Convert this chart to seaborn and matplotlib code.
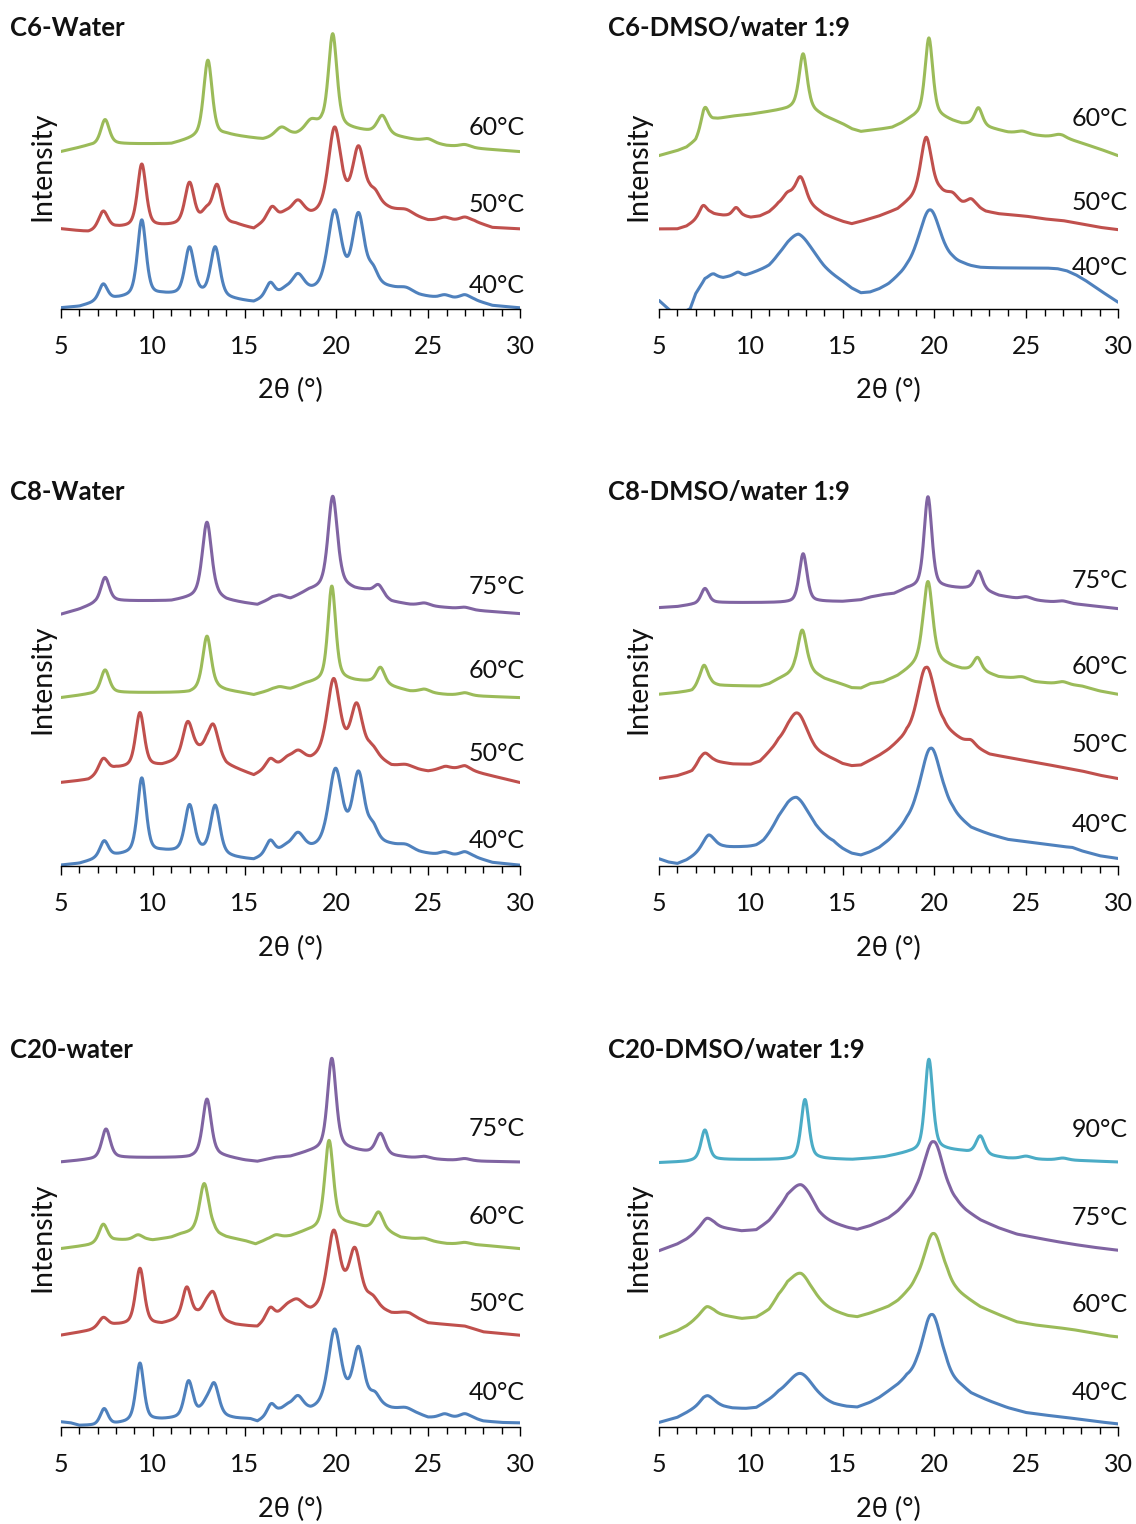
import numpy as np
import pandas as pd
import matplotlib
matplotlib.use("Agg")
import matplotlib.pyplot as plt
from matplotlib.ticker import MultipleLocator
import seaborn as sns

# ---------------- data ----------------
# each curve: background anchors (2theta, intensity a.u.) and peaks (2theta, height, FWHM)
TEMPS_C6W = ["40°C", "50°C", "60°C"]
C6W_40_base = [(5,3),(6,7),(6.8,18),(8,30),(9,36),(10.5,42),(11.5,40),(12.7,40),(14.5,26),(15.5,18),(16.1,30),(18.6,48),(19.3,55),(21.8,70),(23,60),(24.5,40),(25.5,32),(27.5,26),(28.5,10),(30,3)]
C6W_40_peaks = [(7.3,50,.55),(9.4,228,.55),(12.0,142,.6),(13.4,148,.6),(16.4,42,.55),(17.2,14,.7),(17.9,55,.8),(19.9,230,.85),(21.2,210,.75),(22.0,38,.6),(23.8,12,.9),(25.9,10,.7),(27.0,14,.7)]
C6W_50_base = [(5,240),(6.5,230),(8,243),(10,246),(11.5,250),(14.5,252),(15.5,238),(16.2,262),(18.6,275),(19.3,285),(21.8,322),(23,296),(25,265),(27.5,262),(28.5,244),(30,240)]
C6W_50_peaks = [(7.3,55,.6),(9.4,188,.55),(12.0,125,.6),(12.9,35,.6),(13.5,115,.6),(16.5,38,.55),(17.2,14,.7),(17.9,48,.8),(19.9,245,.8),(21.2,165,.75),(22.1,28,.6),(23.8,12,.9),(25.9,10,.7),(27.0,12,.7)]
C6W_60_base = [(5,472),(6.5,490),(8,495),(11,495),(12.3,512),(14,522),(16,508),(17.8,522),(19.2,550),(20.5,542),(21.7,532),(23.2,518),(24.5,505),(26,490),(28,480),(30,472)]
C6W_60_peaks = [(7.4,75,.55),(13.0,230,.55),(17.0,28,.8),(18.6,25,.7),(19.8,278,.55),(22.5,55,.65),(25.0,10,.7),(27.0,8,.7)]
C6W_label_y = [70, 315, 545]

TEMPS_C6D = ["40°C", "50°C", "60°C"]
C6D_40_base = [(5,25),(5.6,-5),(6.3,-12),(6.7,0),(7.0,45),(7.5,88),(8,95),(8.5,92),(9,98),(9.7,98),(10.5,112),(11,120),(11.5,138),(12,150),(12.6,154),(13,145),(13.5,132),(14,112),(14.5,95),(15,78),(15.5,58),(16,44),(16.5,46),(17,55),(17.5,68),(18,88),(18.5,105),(19,110),(19.75,112),(20.5,120),(21,129),(21.5,128),(22,123),(22.5,120),(26,122),(26.7,120),(27.2,114),(27.7,102),(28.2,86),(29,56),(30,20)]
C6D_40_peaks = [(7.9,10,.5),(9.3,10,.4),(12.6,70,1.8),(19.75,185,1.4)]
C6D_50_base = [(5,240),(6,240),(6.5,248),(7,265),(7.8,285),(8.5,280),(9.6,278),(10,274),(10.5,278),(11,290),(11.5,312),(12.3,322),(13,318),(13.5,300),(14,283),(14.5,272),(15,262),(15.5,255),(16,262),(17,278),(18,298),(18.5,318),(19,335),(19.55,350),(20.3,350),(21,330),(21.5,315),(22.3,305),(22.8,292),(23.5,285),(25,278),(26,270),(27,265),(28,255),(29,245),(30,238)]
C6D_50_peaks = [(7.4,35,.5),(9.2,25,.45),(12.0,25,.6),(12.7,75,.65),(19.55,165,.7),(21.0,15,.6),(22.0,20,.55)]
C6D_60_base = [(5,460),(6,475),(6.5,485),(7,505),(7.4,545),(7.8,562),(8,568),(9,578),(10,584),(11,592),(12,600),(12.5,608),(13.2,603),(13.5,592),(14,578),(15,555),(15.5,540),(16,532),(16.6,536),(17.2,540),(17.7,544),(18.2,556),(18.6,568),(19,578),(19.7,588),(20.5,573),(21,563),(21.5,555),(22.4,553),(23,543),(24,530),(26,518),(27,515),(28,498),(29,480),(30,460)]
C6D_60_peaks = [(7.5,55,.45),(12.85,160,.5),(19.7,225,.5),(22.4,50,.5),(24.8,8,.7),(26.8,8,.7)]
C6D_label_y = [125, 320, 570]

TEMPS_C8W = ["40°C", "50°C", "60°C", "75°C"]
C8W_40_base = [(5,2),(6,7),(6.8,18),(8,30),(9,36),(10.5,42),(11.5,40),(12.7,40),(14.5,23),(15.5,16),(16.1,28),(18.6,46),(19.3,55),(21.8,70),(23,60),(24.5,40),(25.5,32),(27.5,26),(28.5,10),(30,2)]
C8W_40_peaks = [(7.35,50,.55),(9.4,225,.55),(12.0,140,.6),(13.4,145,.6),(16.4,42,.55),(17.2,14,.7),(17.9,52,.8),(19.95,225,.85),(21.2,205,.75),(22.0,38,.6),(23.8,12,.9),(25.9,10,.7),(27.0,14,.7)]
C8W_50_base = [(5,250),(6.5,258),(8,292),(9,296),(10.5,300),(11.5,315),(12.4,338),(12.9,352),(14,302),(15.5,270),(16.1,286),(17,300),(18.6,313),(19.3,330),(21.8,335),(23,298),(25,283),(26,290),(27,290),(28,276),(30,250)]
C8W_50_peaks = [(7.3,45,.6),(9.3,162,.55),(11.9,105,.65),(13.3,88,.65),(16.4,28,.55),(17.3,14,.6),(17.9,33,.8),(19.85,225,.8),(21.1,145,.75),(22.0,18,.6),(23.8,10,.9),(25.9,8,.7),(27.0,10,.7)]
C8W_60_base = [(5,505),(6.5,515),(8,520),(12,520),(12.5,527),(13.5,532),(14,526),(15,518),(15.5,513),(16.5,528),(17.5,530),(18.3,546),(19.2,555),(20.3,560),(21,555),(21.8,552),(23,538),(24,524),(26,514),(28,509),(30,505)]
C8W_60_peaks = [(7.4,70,.55),(12.95,160,.55),(16.9,8,.7),(19.75,282,.5),(22.4,50,.55),(24.8,10,.7),(27.0,8,.7)]
C8W_75_base = [(5,755),(6,770),(6.8,786),(8,795),(11,795),(12.3,806),(13.5,806),(14,796),(15,788),(15.7,783),(16.5,802),(17.5,800),(18.5,826),(19.2,833),(20.3,840),(21,829),(21.7,825),(23,793),(24,784),(26,775),(28,765),(30,757)]
C8W_75_peaks = [(7.4,75,.55),(12.95,225,.6),(16.9,10,.7),(19.8,272,.6),(22.3,32,.6),(24.8,8,.7),(27.0,6,.7)]
C8W_label_y = [75, 337, 585, 840]

TEMPS_C8D = ["40°C", "50°C", "60°C", "75°C"]
C8D_40_base = [(5,20),(5.5,10),(6,5),(6.5,15),(7,30),(7.7,50),(8.5,52),(9.5,50),(10.3,47),(10.7,51),(11,60),(11.5,76),(12,79),(12.5,75),(13,61),(13.5,54),(14,55),(14.5,54),(15,40),(15.5,29),(16,25),(16.5,35),(17,48),(17.5,68),(18,93),(18.5,118),(19,127),(19.8,125),(20.6,146),(21,145),(21.5,127),(22,108),(23,91),(24,77),(25,71),(26,64),(27,57),(27.5,55),(28,45),(29,30),(30,22)]
C8D_40_peaks = [(7.7,40,.8),(12.5,130,2.2),(19.8,227,1.3)]
C8D_50_base = [(5,262),(6,270),(6.8,283),(7.2,305),(8,312),(8.5,308),(9,304),(10,302),(10.5,310),(11,335),(11.5,358),(12,360),(12.55,348),(13,340),(13.5,330),(14,325),(14.5,316),(15,303),(15.5,297),(16,299),(16.5,313),(17,327),(17.5,343),(18,363),(18.5,380),(19,372),(19.55,360),(20,383),(20.5,400),(21,387),(21.5,372),(22,358),(22.5,346),(23,333),(24,324),(25,314),(26,305),(27,295),(28,285),(29,272),(30,262)]
C8D_50_peaks = [(7.5,30,.65),(12.55,110,1.3),(19.55,235,1.1),(22.0,15,.55)]
C8D_60_base = [(5,515),(6,520),(6.8,525),(7.1,538),(7.8,546),(8.3,541),(10.5,539),(11,546),(11.5,560),(12,572),(12.4,585),(13.2,586),(13.5,575),(14,561),(15,544),(15.5,534),(16,533),(16.5,546),(17.2,551),(18,569),(18.5,586),(19,604),(19.3,615),(20.3,610),(21,597),(21.5,590),(22,588),(22.8,580),(23.5,567),(24.5,562),(25.5,552),(26.5,547),(28,540),(29,525),(30,515)]
C8D_60_peaks = [(7.45,60,.5),(12.8,122,.55),(19.65,240,.6),(22.35,40,.5),(24.8,8,.7),(27.0,8,.7)]
C8D_75_base = [(5,775),(6,778),(6.8,784),(8,790),(12.3,790),(13.3,793),(15,793),(16,798),(16.5,806),(17.2,813),(17.8,816),(18.5,831),(19.2,836),(20.5,835),(21.5,832),(22.0,832),(22.8,825),(23.5,811),(24.5,802),(26,794),(28,784),(30,772)]
C8D_75_peaks = [(7.5,45,.5),(12.85,145,.5),(19.65,272,.5),(22.4,55,.5),(25.0,8,.7),(27.0,6,.7)]
C8D_label_y = [125, 365, 600, 855]

TEMPS_C20W = ["40°C", "50°C", "60°C", "75°C"]
C20W_40_base = [(5,15),(5.5,12),(6,4),(6.8,4),(7.8,7),(8.5,12),(9,18),(10.5,21),(11.5,25),(12.6,35),(14.5,24),(15.3,22),(15.7,14),(16.2,28),(16.9,42),(18.6,46),(19.2,57),(20.6,75),(21.8,68),(22.6,58),(23,52),(24.5,36),(25,27),(27.5,24),(28,17),(29,13),(30,12)]
C20W_40_peaks = [(7.35,48,.5),(9.3,172,.5),(11.95,106,.55),(12.9,28,.6),(13.35,92,.6),(16.45,33,.5),(17.3,14,.6),(17.9,43,.7),(19.9,222,.8),(21.2,160,.7),(22.1,28,.6),(23.8,12,.9),(25.9,12,.7),(27.0,14,.7)]
C20W_50_base = [(5,275),(6.5,288),(8,305),(9,307),(10.5,307),(11.4,320),(12.4,330),(13.8,315),(14.5,305),(15.7,298),(16.1,315),(17,334),(18.6,340),(19.2,356),(20.5,373),(21.8,370),(22.6,347),(23,338),(24,333),(25,311),(27,302),(28,285),(30,275)]
C20W_50_peaks = [(7.3,30,.6),(9.3,168,.55),(11.85,92,.55),(12.9,32,.6),(13.3,72,.6),(16.4,33,.5),(17.3,16,.7),(17.85,38,.9),(19.85,218,.8),(21.0,155,.75),(22.0,18,.6),(23.8,8,.9)]
C20W_60_base = [(5,535),(6.5,545),(8,560),(9.7,561),(10,560),(11,568),(11.5,577),(12.3,584),(13.3,586),(13.6,575),(14,568),(15,558),(15.6,548),(16.2,561),(17.5,572),(18.3,586),(19,594),(20.3,610),(21,606),(21.6,597),(22.9,582),(23.5,568),(24.5,562),(26,550),(28,545),(30,535)]
C20W_60_peaks = [(7.3,55,.55),(9.2,15,.6),(12.8,145,.6),(16.7,10,.6),(19.6,258,.55),(22.3,55,.6),(24.8,6,.7),(27.0,6,.7)]
C20W_75_base = [(5,795),(6.5,802),(8,808),(12,808),(12.4,812),(13.5,815),(14,810),(15,800),(15.7,796),(16.7,808),(17.5,811),(18.5,825),(19.1,831),(20.3,836),(21.5,825),(23,813),(24,808),(26,801),(28,797),(30,795)]
C20W_75_peaks = [(7.45,88,.55),(12.95,170,.55),(19.75,272,.55),(22.4,62,.6),(24.8,6,.7),(27.0,6,.7)]
C20W_label_y = [105, 370, 630, 895]

TEMPS_C20D = ["40°C", "60°C", "75°C", "90°C"]
C20D_40_base = [(5,13),(6,28),(6.5,42),(7,57),(7.4,70),(7.65,70),(8.1,66),(8.5,60),(9,55),(9.7,53),(10.3,55),(10.8,70),(11.5,89),(12,89),(12.7,85),(13.2,82),(13.8,75),(14.5,64),(15.2,58),(15.8,56),(16.5,70),(17,84),(17.5,102),(18,119),(18.5,139),(19,140),(19.4,132),(19.85,125),(20.2,135),(20.6,142),(21,129),(21.5,115),(22,96),(23,75),(24,56),(25,42),(26,35),(27,29),(28,22),(29,15),(30,9)]
C20D_40_peaks = [(7.65,23,.8),(12.7,75,1.6),(19.85,212,1.2)]
C20D_60_base = [(5,268),(6,288),(6.5,302),(7,320),(7.6,335),(8,338),(8.5,333),(9.5,323),(10.3,326),(11,346),(11.5,379),(12,393),(12.75,380),(13.2,366),(13.7,357),(14.5,343),(15.3,330),(15.8,327),(16.5,338),(17.5,357),(18,372),(18.5,394),(19,410),(19.4,405),(19.95,395),(20.3,400),(20.7,410),(21.2,398),(21.7,383),(22.5,357),(23.5,335),(24.5,314),(25.5,305),(26.5,299),(27.5,292),(28.5,283),(29.5,273),(30,270)]
C20D_60_peaks = [(7.6,25,.8),(12.75,80,1.6),(19.95,185,1.2)]
C20D_75_base = [(5,528),(6,548),(6.5,562),(7,580),(7.6,595),(8,600),(8.5,595),(9.5,586),(10.3,588),(11,612),(11.5,638),(12,655),(12.75,646),(13.2,636),(13.7,617),(14.5,606),(15.3,594),(15.8,589),(16.5,600),(17.5,622),(18,640),(18.5,664),(19,678),(19.4,675),(19.95,655),(20.3,664),(20.8,670),(21.2,663),(21.7,643),(22.5,617),(23.5,595),(24.5,577),(25.5,567),(26.5,557),(27.5,548),(28.5,540),(29.5,533),(30,530)]
C20D_75_peaks = [(7.6,30,.8),(12.75,80,1.6),(19.95,200,1.2)]
C20D_90_base = [(5,793),(6.5,796),(7.1,800),(8,802),(12.3,802),(13.4,806),(14,804),(15.5,802),(16.5,806),(17.3,810),(18.5,822),(19.2,827),(20.1,834),(21.5,827),(23,813),(24,806),(26,802),(28,799),(30,795)]
C20D_90_peaks = [(7.5,90,.5),(12.95,178,.5),(19.7,272,.5),(22.5,55,.55),(25.0,8,.7),(27.0,6,.7)]
C20D_label_y = [103, 368, 628, 893]

TITLES = ["C6-Water", "C6-DMSO/water 1:9", "C8-Water", "C8-DMSO/water 1:9",
          "C20-water", "C20-DMSO/water 1:9"]
X_TICKS = [5, 10, 15, 20, 25, 30]

# ---------------- styling ----------------
BLUE, RED, GREEN, PURPLE, CYAN = "#4F81BD", "#C0504D", "#9BBB59", "#8064A2", "#4BACC6"
TEMP_COLORS = {"40°C": BLUE, "50°C": RED, "60°C": GREEN, "75°C": PURPLE, "90°C": CYAN}
TXT = "#111111"

sns.set_theme(style="white")
FONT = ["Lato", "DejaVu Sans"]
plt.rcParams["font.family"] = FONT

W, H = 1136, 1524
fig = plt.figure(figsize=(W / 100, H / 100), dpi=100)

theta = np.arange(5.0, 30.0001, 0.02)


def profile(base, peaks, eta=0.45):
    bx = [b[0] for b in base]
    by = [b[1] for b in base]
    y = np.interp(theta, bx, by)
    for pos, h, w in peaks:
        u = (theta - pos) / (w / 2.0)
        y = y + h * (eta / (1 + u ** 2) + (1 - eta) * np.exp(-np.log(2) * u ** 2))
    return y


panels = [
    dict(title=TITLES[0], temps=TEMPS_C6W, curves=[(C6W_40_base, C6W_40_peaks), (C6W_50_base, C6W_50_peaks), (C6W_60_base, C6W_60_peaks)], laby=C6W_label_y),
    dict(title=TITLES[1], temps=TEMPS_C6D, curves=[(C6D_40_base, C6D_40_peaks), (C6D_50_base, C6D_50_peaks), (C6D_60_base, C6D_60_peaks)], laby=C6D_label_y),
    dict(title=TITLES[2], temps=TEMPS_C8W, curves=[(C8W_40_base, C8W_40_peaks), (C8W_50_base, C8W_50_peaks), (C8W_60_base, C8W_60_peaks), (C8W_75_base, C8W_75_peaks)], laby=C8W_label_y),
    dict(title=TITLES[3], temps=TEMPS_C8D, curves=[(C8D_40_base, C8D_40_peaks), (C8D_50_base, C8D_50_peaks), (C8D_60_base, C8D_60_peaks), (C8D_75_base, C8D_75_peaks)], laby=C8D_label_y),
    dict(title=TITLES[4], temps=TEMPS_C20W, curves=[(C20W_40_base, C20W_40_peaks), (C20W_50_base, C20W_50_peaks), (C20W_60_base, C20W_60_peaks), (C20W_75_base, C20W_75_peaks)], laby=C20W_label_y),
    dict(title=TITLES[5], temps=TEMPS_C20D, curves=[(C20D_40_base, C20D_40_peaks), (C20D_60_base, C20D_60_peaks), (C20D_75_base, C20D_75_peaks), (C20D_90_base, C20D_90_peaks)], laby=C20D_label_y),
]

# layout in pixels
col_left = [61, 659]
col_width = 459
row_bottom = [309, 866, 1427]
row_height = [290, 400, 400]
title_y = [28, 492, 1050]
title_x = [10, 608]
ylab_x = [42, 638]
ylab_y = [166, 679, 1237]
xlab_off = [81, 82, 82]
lab_x = [30.28, 30.55]

for i, p in enumerate(panels):
    r, c = divmod(i, 2)
    left = col_left[c] / W
    bottom = (H - row_bottom[r]) / H
    ax = fig.add_axes([left, bottom, col_width / W, row_height[r] / H])
    rows = []
    for (base, peaks), temp in zip(p["curves"], p["temps"]):
        yv = profile(base, peaks)
        rows.append(pd.DataFrame({"theta": theta, "I": yv, "T": temp}))
    df = pd.concat(rows, ignore_index=True)
    sns.lineplot(data=df, x="theta", y="I", hue="T", palette=TEMP_COLORS,
                 estimator=None, sort=False, lw=2.2, legend=False, ax=ax)
    ax.set_xlim(5, 30)
    ax.set_ylim(0, row_height[r] * 3)
    for temp, ly in zip(p["temps"], p["laby"]):
        ax.text(lab_x[c], ly, temp, ha="right", va="center", fontsize=18,
                color=TXT, family=FONT, clip_on=False)
    for s in ["left", "top", "right"]:
        ax.spines[s].set_visible(False)
    ax.spines["bottom"].set_color("black")
    ax.spines["bottom"].set_linewidth(1.0)
    ax.set_yticks([])
    ax.set_xticks(X_TICKS)
    ax.xaxis.set_minor_locator(MultipleLocator(1))
    ax.tick_params(axis="x", which="major", direction="out", length=6.5, width=1.0,
                   color="black", labelsize=18, pad=12, bottom=True, labelcolor=TXT)
    ax.tick_params(axis="x", which="minor", direction="out", length=5, width=1.0,
                   color="black", bottom=True)
    ax.set_xlabel("")
    ax.set_ylabel("")
    ax.set_facecolor("white")
    # panel texts
    fig.text(title_x[c] / W, 1 - title_y[r] / H, p["title"], ha="left", va="center",
             fontsize=18.5, fontweight="bold", color=TXT, family=FONT)
    fig.text(ylab_x[c] / W, 1 - ylab_y[r] / H, "Intensity", rotation=90, ha="center",
             va="center", fontsize=20.5, color=TXT, family=FONT)
    fig.text((col_left[c] + col_width / 2) / W, 1 - (row_bottom[r] + xlab_off[r]) / H,
             "2θ (°)", ha="center", va="center", fontsize=19.5, color=TXT, family=FONT)

fig.savefig("out.png", dpi=100, facecolor="white")
